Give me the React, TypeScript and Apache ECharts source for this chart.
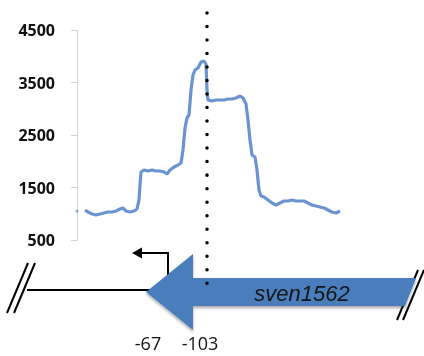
import { useEffect, useRef } from 'react';
import * as echarts from 'echarts';

// Read coverage profile (position offset along promoter region, signal value)
const positions = [
  8, 11, 15, 19, 23, 27, 31, 35, 39, 43, 46, 49, 53, 57, 60, 62, 63, 64, 67, 71,
  75, 79, 83, 87, 90, 93, 97, 101, 104, 106, 108, 110, 112, 114, 116, 118, 121, 124, 127, 129,
  130, 131, 135, 139, 143, 147, 151, 155, 159, 163, 166, 169, 171, 173, 175, 178, 180, 182, 184, 187,
  191, 195, 199, 203, 207, 211, 215, 219, 223, 227, 231, 235, 239, 243, 247, 251, 255, 259, 263,
];
const coverage = [
  1071, 1033, 995, 976, 995, 1014, 1033, 1033, 1052, 1090, 1110, 1052, 1033, 1052, 1090, 1262, 1547, 1795, 1833, 1814,
  1833, 1814, 1814, 1795, 1757, 1833, 1890, 1928, 1966, 2214, 2633, 2824, 2881, 3357, 3643, 3738, 3776, 3890, 3909, 3852,
  3357, 3167, 3147, 3167, 3167, 3167, 3186, 3186, 3205, 3243, 3205, 3090, 2786, 2405, 2119, 2081, 1833, 1452, 1338, 1319,
  1262, 1205, 1167, 1205, 1243, 1243, 1262, 1243, 1243, 1243, 1205, 1167, 1148, 1129, 1110, 1071, 1033, 1014, 1052,
];
const startPoint = [0, 1050];
const yMin = 500;
const yMax = 4500;
const yStep = 1000;
const xMax = 264;
const markedPosition = 130; // -103 site (dotted line)
const tssLabels = ['-67', '-103'];
const geneName = 'sven1562';

export default function App() {
  const ref = useRef<HTMLDivElement>(null);
  useEffect(() => {
    if (!ref.current) return;
    const chart = echarts.init(ref.current, null, { renderer: 'svg' });
    chart.setOption({
      animation: false,
      grid: { left: 77, right: 424 - 77 - xMax, top: 30, bottom: 116 },
      xAxis: {
        type: 'value',
        min: 0,
        max: xMax,
        show: false,
      },
      yAxis: {
        type: 'value',
        min: yMin,
        max: yMax,
        interval: yStep,
        axisLine: { show: true, lineStyle: { color: '#d4d4d4', width: 1 } },
        axisTick: { show: true, length: 6, lineStyle: { color: '#d4d4d4' } },
        splitLine: { show: false },
        axisLabel: {
          margin: 22,
          color: '#111',
          fontFamily: 'Open Sans',
          fontWeight: 'bold',
          fontSize: 16,
          formatter: (v: number) => String(v),
        },
      },
      series: [
        {
          type: 'line',
          data: positions.map((p, i) => [p, coverage[i]]),
          symbol: 'none',
          lineStyle: { color: '#6b93d2', width: 3.2 },
          z: 3,
        },
        {
          type: 'scatter',
          data: [startPoint],
          symbolSize: 3,
          itemStyle: { color: '#6b93d2' },
        },
      ],
    });
    const mx = chart.convertToPixel({ xAxisIndex: 0 }, markedPosition) as number;
    const lineY = 290;
    chart.setOption({
      graphic: [
        // left break marks
        { type: 'line', shape: { x1: 7, y1: 313, x2: 28, y2: 263 }, style: { stroke: '#000', lineWidth: 2 } },
        { type: 'line', shape: { x1: 14, y1: 313, x2: 35, y2: 263 }, style: { stroke: '#000', lineWidth: 2 } },
        // upstream line
        { type: 'line', shape: { x1: 27, y1: lineY, x2: 152, y2: lineY }, style: { stroke: '#000', lineWidth: 2 } },
        // transcription start bent arrow
        { type: 'polyline', shape: { points: [[168, 278], [168, 253], [140, 253]] }, style: { stroke: '#000', lineWidth: 2, fill: null } },
        { type: 'polygon', shape: { points: [[132, 253], [142, 247.5], [142, 258.5]] }, style: { fill: '#000' } },
        // gene arrow
        {
          type: 'polygon',
          shape: {
            points: [[146, 292], [193, 254], [193, 278], [416, 278], [405, 306], [193, 306], [193, 330]],
          },
          style: {
            fill: '#4a7dbb',
            shadowColor: 'rgba(0,0,0,0.35)',
            shadowBlur: 3,
            shadowOffsetY: 2,
          },
          z: 5,
        },
        {
          type: 'text',
          x: 302,
          y: 293,
          style: {
            text: geneName,
            fill: '#151515',
            font: 'italic 22px "Liberation Sans"',
            textAlign: 'center',
            textVerticalAlign: 'middle',
          },
          z: 6,
        },
        // right break marks
        { type: 'line', shape: { x1: 397, y1: 320, x2: 418, y2: 270 }, style: { stroke: '#000', lineWidth: 2 } },
        { type: 'line', shape: { x1: 403, y1: 320, x2: 424, y2: 270 }, style: { stroke: '#000', lineWidth: 2 } },
        // dotted marker line
        {
          type: 'line',
          shape: { x1: mx, y1: 13, x2: mx, y2: 284 },
          style: { stroke: '#000', lineWidth: 3.5, lineDash: [0.01, 13.5], lineCap: 'round' },
          z: 10,
        },
        // position labels
        {
          type: 'text',
          x: 148,
          y: 343,
          style: { text: tssLabels[0], fill: '#111', font: '18px "Open Sans"', textAlign: 'center', textVerticalAlign: 'middle' },
        },
        {
          type: 'text',
          x: 200,
          y: 343,
          style: { text: tssLabels[1], fill: '#111', font: '18px "Open Sans"', textAlign: 'center', textVerticalAlign: 'middle' },
        },
      ],
    });
    return () => chart.dispose();
  }, []);
  return <div ref={ref} style={{ position: 'fixed', left: 0, top: 0, width: 424, height: 356 }} />;
}
